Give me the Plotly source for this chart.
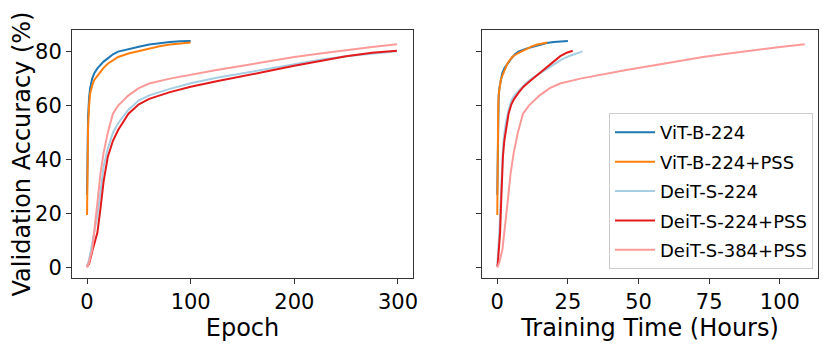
import plotly.graph_objects as go
from plotly.subplots import make_subplots

# ViT-B runs (100 epochs)
vit_epochs = [0, 0.5, 1, 2, 3, 5, 7, 10, 13, 16, 20, 25, 30, 40, 50, 60, 70, 80, 90, 100]
vit_acc = [27, 45, 56, 63, 66.5, 70, 72, 73.8, 75, 76.3, 77.5, 79, 80, 81, 81.8, 82.6, 83.2, 83.6, 83.8, 83.9]
vit_hours = [0, 0.13, 0.25, 0.5, 0.75, 1.25, 1.75, 2.5, 3.25, 4, 5, 6.25, 7.5, 10, 12.5, 15, 17.5, 20, 22.5, 25]
vit_pss_acc = [19.5, 40, 52, 60, 64.5, 67.5, 69.5, 71, 72.5, 74, 75.5, 76.9, 78, 79.3, 80.2, 81.2, 82, 82.6, 83.1, 83.4]
vit_pss_hours = [0, 0.09, 0.18, 0.35, 0.53, 0.89, 1.24, 1.77, 2.3, 2.83, 3.54, 4.43, 5.31, 7.08, 8.85, 10.6, 12.4, 14.2, 15.9, 17.7]

# DeiT-S runs (300 epochs)
deit_epochs = [0, 2, 5, 8, 10, 13, 16, 20, 25, 30, 40, 50, 60, 80, 100, 125, 150, 175, 200, 225, 250, 275, 299]
deit_acc = [0.5, 3, 9, 15, 19.5, 28, 37.5, 44, 50, 53.5, 58.5, 62, 63.8, 66.2, 68.3, 70.3, 72, 73.8, 75.5, 77, 78.3, 79.3, 80.1]
deit_hours = [0, 0.2, 0.51, 0.81, 1.01, 1.31, 1.62, 2.02, 2.53, 3.03, 4.04, 5.05, 6.06, 8.08, 10.1, 12.6, 15.2, 17.7, 20.2, 22.7, 25.3, 27.8, 30.2]
deit_pss_acc = [0.5, 1.5, 6, 10.5, 13, 22, 32, 41, 47, 51, 57, 60.5, 62.5, 65, 67, 69, 70.8, 72.8, 74.8, 76.6, 78.3, 79.6, 80.3]
deit_pss_hours = [0, 0.2, 0.5, 0.8, 1.0, 1.3, 1.6, 2.0, 2.5, 3.0, 4.0, 5.0, 6.0, 7.7, 9.3, 11.5, 13.6, 15.7, 17.9, 20.1, 22.3, 24.6, 26.7]
deit384_acc = [0, 2, 6.7, 16, 24, 35, 42.5, 50, 57, 60, 63.8, 66.5, 68.2, 70, 71.5, 73.2, 74.8, 76.5, 78, 79.3, 80.6, 81.7, 82.7]
deit384_hours = [0, 0.73, 1.82, 2.91, 3.64, 4.73, 5.82, 7.28, 9.1, 11.2, 15.0, 18.6, 22.2, 29.4, 36.6, 45.6, 54.6, 63.7, 72.8, 81.9, 91, 100.1, 108.8]

series = [
    ("ViT-B-224", vit_epochs, vit_hours, vit_acc, "#1f77b4"),
    ("ViT-B-224+PSS", vit_epochs, vit_pss_hours, vit_pss_acc, "#ff7f0e"),
    ("DeiT-S-224", deit_epochs, deit_hours, deit_acc, "#a6cee3"),
    ("DeiT-S-224+PSS", deit_epochs, deit_pss_hours, deit_pss_acc, "#e31a1c"),
    ("DeiT-S-384+PSS", deit_epochs, deit384_hours, deit384_acc, "#fb9a99"),
]

fig = make_subplots(rows=1, cols=2, shared_yaxes=True)
for name, ep, hrs, acc, col in series:
    fig.add_trace(go.Scatter(x=ep, y=acc, mode="lines", name=name, legendgroup=name,
                             line=dict(color=col, width=2), showlegend=False), row=1, col=1)
    fig.add_trace(go.Scatter(x=hrs, y=acc, mode="lines", name=name, legendgroup=name,
                             line=dict(color=col, width=2)), row=1, col=2)

axis_style = dict(showline=True, mirror=True, linecolor="#333333", linewidth=1,
                  ticks="outside", ticklen=5, tickcolor="#333333", showgrid=False,
                  zeroline=False, automargin=False, tickfont=dict(size=21, color="black"))

# page body adds an 8px offset, so the figure is laid out 8px up and left
fig.update_xaxes(**axis_style)
fig.update_yaxes(**axis_style)
fig.update_layout(
    width=831, height=344,
    margin=dict(l=0, r=0, t=22, b=74),
    plot_bgcolor="white", paper_bgcolor="white",
    font=dict(family="DejaVu Sans", color="black"),
    xaxis=dict(domain=[64 / 831, 405 / 831], range=[-14.5, 314.5], tickvals=[0, 100, 200, 300],
               title=dict(text="Epoch", font=dict(size=24), standoff=2)),
    xaxis2=dict(domain=[474 / 831, 810 / 831], range=[-5.4, 113.5], tickvals=[0, 25, 50, 75, 100],
                title=dict(text="Training Time (Hours)", font=dict(size=24), standoff=2)),
    yaxis=dict(range=[-3.8, 88], tickvals=[0, 20, 40, 60, 80],
               title=dict(text="Validation Accuracy (%)", font=dict(size=24), standoff=4)),
    yaxis2=dict(range=[-3.8, 88], showticklabels=False),
    legend=dict(x=805 / 831, y=0.036, xanchor="right", yanchor="bottom",
                bordercolor="#cccccc", borderwidth=1, bgcolor="rgba(255,255,255,0.8)",
                font=dict(size=18), itemwidth=40, tracegroupgap=3),
)

fig.write_html("out.html")
